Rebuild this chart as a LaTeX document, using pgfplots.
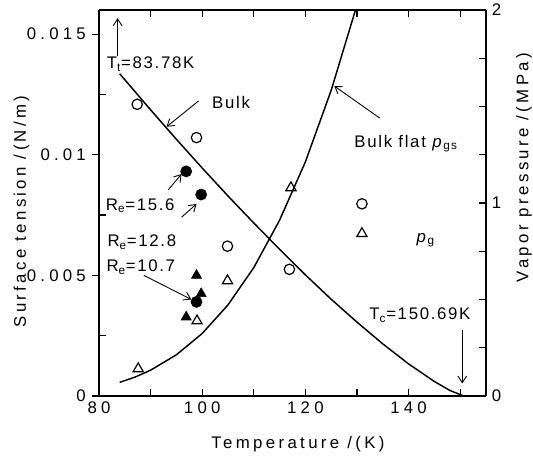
\documentclass[border=0pt]{standalone}
\usepackage{fontspec}
\setmainfont{Liberation Sans}[LetterSpace=10]
\newfontfamily\tickfont{Liberation Sans}[LetterSpace=25]
\newfontfamily\labelfont{Liberation Sans}[LetterSpace=20]
\usepackage{pgfplots}
\pgfplotsset{compat=1.18}
\usetikzlibrary{arrows.meta}

% saturated argon: surface tension (N/m) and vapour pressure (MPa)
\pgfplotstableread{
T sigma
84 0.01336
90 0.01186
95 0.01064
100 0.00945
105 0.00829
110 0.00717
115 0.00608
120 0.00502
125 0.00401
130 0.00306
135 0.00216
140 0.00133
145 0.00060
148 0.00023
150.69 0
}\bulksigma
\pgfplotstableread{
T p
84 0.0705
87 0.0981
90 0.1337
95 0.2134
100 0.3238
105 0.4720
110 0.6654
115 0.9110
120 1.2130
125 1.5840
130 2.0262
}\bulkp

\tikzset{ann/.style={-{Straight Barb[length=5pt,width=6.5pt]}, line width=0.65pt}}

\begin{document}
\fontsize{12.6}{15}\selectfont
\begin{tikzpicture}
\useasboundingbox (-74.25pt,-47.25pt) rectangle (325.5pt,297pt);
\begin{axis}[
  scale only axis, width=290.25pt, height=289.5pt,
  xmin=80, xmax=155, ymin=0, ymax=0.016,
  axis y line*=left,
  xtick={80,100,120,140}, minor xtick={90,110,130,150},
  ytick={0,0.005,0.01,0.015}, yticklabels={0,0.005,0.01,0.015},
  extra y ticks={0.0025,0.0075,0.0125}, extra y tick labels={},
  extra y tick style={ytick align=inside},
  scaled y ticks=false,
  xtick align=inside, ytick align=outside,
  major tick length=5.5pt, minor tick length=5pt,
  every tick/.style={black, line width=0.9pt},
  axis line style={line width=1.3pt},
  tick label style={font=\tickfont},
  /pgf/number format/assume math mode=true,
  xlabel={Temperature /(K)}, ylabel={Surface tension /(N/m)},
  label style={font=\labelfont},
  xlabel style={at={(axis description cs:0.514,-0.125)}, anchor=center},
  ylabel style={at={(axis description cs:-0.2,0.478)}, anchor=center},
  clip=false,
]
\addplot[black, line width=1.1pt] table[x=T, y=sigma] {\bulksigma};
\addplot[only marks, mark=o, mark size=3.9pt, line width=0.9pt] coordinates {
  (87.4,0.01209) (98.9,0.01071) (104.9,0.00621) (116.9,0.00525)};
\addplot[only marks, mark=*, mark size=4.2pt, fill=black] coordinates {
  (96.9,0.00931) (99.8,0.00835) (98.9,0.0039)};
% annotations
\draw[ann] (axis cs:83.6,0.01409) -- (axis cs:83.6,0.01566);
\node at (axis cs:90.0,0.01376) {T\textsubscript{t}=83.78K};
\node at (axis cs:105.6,0.01217) {Bulk};
\draw[ann] (axis cs:99.3,0.01223) -- (axis cs:93.1,0.01116);
\node at (axis cs:139.5,0.01047) {Bulk flat \textit{p}\textsubscript{gs}};
\draw[ann] (axis cs:134.4,0.01152) -- (axis cs:125.6,0.01285);
\node at (axis cs:88.0,0.00789) {R\textsubscript{e}=15.6};
\draw[ann] (axis cs:93.4,0.00854) -- (axis cs:96.0,0.0092);
\node at (axis cs:88.3,0.00638) {R\textsubscript{e}=12.8};
\draw[ann] (axis cs:96.0,0.00741) -- (axis cs:98.9,0.00796);
\node at (axis cs:88.1,0.00534) {R\textsubscript{e}=10.7};
\draw[ann] (axis cs:88.7,0.0050) -- (axis cs:97.9,0.0040);
\node at (axis cs:142.2,0.00335) {T\textsubscript{c}=150.69K};
\draw[ann] (axis cs:150.4,0.00273) -- (axis cs:150.4,0.00052);
\node at (axis cs:143.3,0.00645) {\textit{p}\textsubscript{g}};
\end{axis}
\begin{axis}[
  scale only axis, width=290.25pt, height=289.5pt,
  xmin=80, xmax=155, ymin=0, ymax=2,
  axis y line*=right, axis x line=none,
  ytick={0,1,2}, minor ytick={0.25,0.5,0.75,1.25,1.5,1.75},
  ytick align=inside,
  major tick length=5.5pt, minor tick length=5pt,
  every tick/.style={black, line width=0.9pt},
  axis line style={line width=1.3pt},
  tick label style={font=\tickfont},
  /pgf/number format/assume math mode=true,
  ylabel={Vapor pressure /(MPa)},
  label style={font=\labelfont},
  ylabel style={at={(axis description cs:1.098,0.592)}, anchor=center, rotate=0},
  legend style={draw=none, fill=none, at={(axis cs:129.9,1.024)}, anchor=north west,
    inner sep=0pt, row sep=14pt},
  legend image code/.code={\draw[#1] plot coordinates {(0.25cm,0cm)};},
]
\addplot[black, line width=1.1pt, forget plot] table[x=T, y=p] {\bulkp};
\addlegendimage{only marks, mark=o, mark size=3.9pt, line width=0.9pt}
\addlegendentry{}
\addplot[only marks, mark=triangle, mark size=4.4pt, line width=0.9pt] coordinates {
  (87.6,0.141) (117.2,1.079) (104.9,0.597) (99.0,0.389)};
\addlegendentry{}
\addplot[only marks, mark=triangle*, mark size=4.4pt, fill=black, forget plot] coordinates {
  (98.9,0.625) (99.8,0.530) (96.9,0.409)};
\end{axis}
\end{tikzpicture}
\end{document}
